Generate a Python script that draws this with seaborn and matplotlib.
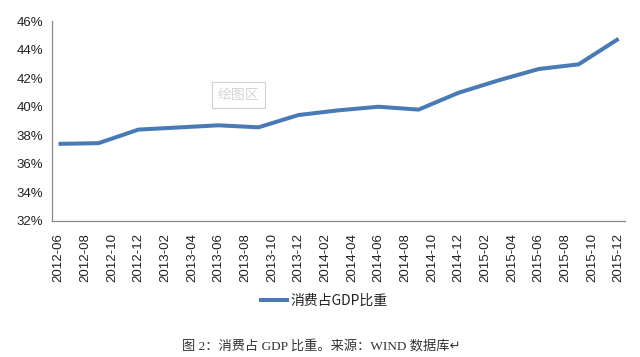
import seaborn as sns
import matplotlib.pyplot as plt
from matplotlib.ticker import FixedLocator, FuncFormatter
import pandas as pd

# quarterly data, consumption share of GDP (%)
quarters = ['2012-06', '2012-09', '2012-12', '2013-03', '2013-06', '2013-09', '2013-12', '2014-03',
            '2014-06', '2014-09', '2014-12', '2015-03', '2015-06', '2015-09', '2015-12']
share = [37.40, 37.45, 38.40, 38.55, 38.70, 38.56, 39.42, 39.75,
         40.00, 39.80, 40.98, 41.85, 42.64, 42.97, 44.76]

# monthly category labels on the x axis (every second month)
month_labels = ['2012-06', '2012-08', '2012-10', '2012-12', '2013-02', '2013-04', '2013-06', '2013-08',
                '2013-10', '2013-12', '2014-02', '2014-04', '2014-06', '2014-08', '2014-10', '2014-12',
                '2015-02', '2015-04', '2015-06', '2015-08', '2015-10', '2015-12']
y_ticks = [32, 34, 36, 38, 40, 42, 44, 46]

series_name = '消费占GDP比重'
caption = '图 2：消费占 GDP 比重。来源：WIND 数据库↵'


def month_index(s):
    y, m = s.split('-')
    return (int(y) - 2012) * 12 + int(m) - 6


df = pd.DataFrame({'month': [month_index(q) for q in quarters], 'share': share})
label_pos = [month_index(m) for m in month_labels]

sns.set_style('white')
plt.rcParams['font.family'] = ['Liberation Sans', 'Noto Sans CJK SC', 'DejaVu Sans']

fig = plt.figure(figsize=(6.4, 3.57), dpi=100)
ax = fig.add_axes([0.081, 0.381, 0.896, 0.56])

sns.lineplot(data=df, x='month', y='share', color='#4a7ab5', linewidth=2.9,
             label=series_name, ax=ax, solid_capstyle='butt')

ax.set_xlim(-0.5, 42.5)
ax.set_ylim(32, 46)
ax.set_xlabel('')
ax.set_ylabel('')

# category labels at month centres, tick marks at category boundaries
ax.xaxis.set_major_locator(FixedLocator(label_pos))
ax.set_xticklabels(month_labels, rotation=90, fontsize=9.5, color='#222222')
ax.xaxis.set_minor_locator(FixedLocator([p - 0.5 for p in label_pos]))
ax.tick_params(axis='x', which='major', length=0, pad=9)
ax.tick_params(axis='x', which='minor', length=4, width=0.9, color='#888888', direction='out')

ax.set_yticks(y_ticks)
ax.yaxis.set_major_formatter(FuncFormatter(lambda v, _: f'{v:.0f}%'))
ax.tick_params(axis='y', length=4, width=0.9, color='#888888', direction='out', labelsize=9.5,
               labelcolor='#222222', pad=2)

for side in ['top', 'right']:
    ax.spines[side].set_visible(False)
for side in ['left', 'bottom']:
    ax.spines[side].set_color('#888888')
    ax.spines[side].set_linewidth(0.9)

# legend below the axis labels
leg = ax.legend(loc='center', bbox_to_anchor=(0.505, 0.158), bbox_transform=fig.transFigure,
                frameon=False, handlelength=2.2, handletextpad=0.1,
                prop={'family': ['Noto Sans CJK SC', 'DejaVu Sans'], 'size': 10})
for t in leg.get_texts():
    t.set_color('#222222')

# leftover "plot area" tag from the source
ax.text(0.325, 0.63, '绘图区', transform=ax.transAxes, fontsize=10, color='#d5d5d5',
        ha='center', va='center', family=['Noto Sans CJK SC', 'DejaVu Sans'],
        bbox=dict(boxstyle='square,pad=0.4', fc='white', ec='#d0d0d0', lw=0.8))

fig.text(0.502, 0.03, caption, ha='center', va='center', fontsize=9.5, color='#333333',
         family=['Liberation Serif', 'Noto Sans CJK SC', 'DejaVu Sans'])

plt.savefig('out.png', dpi=100)
